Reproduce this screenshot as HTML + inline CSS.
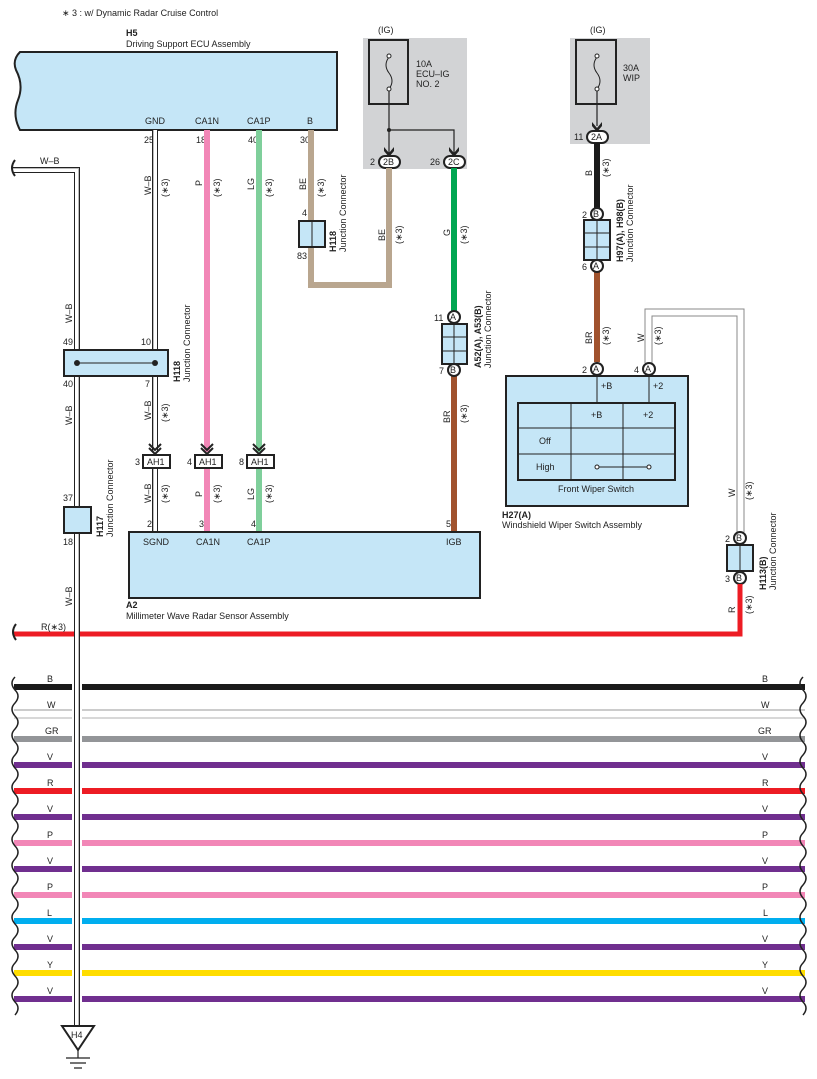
<!DOCTYPE html>
<html><head><meta charset="utf-8"><style>
html,body{margin:0;padding:0;background:#fff}
svg{display:block;font-family:"Liberation Sans",sans-serif}
text{font-size:9px;fill:#222}
.b{font-weight:bold}
</style></head><body>
<svg width="817" height="1079" viewBox="0 0 817 1079" xmlns="http://www.w3.org/2000/svg">
<text x="62" y="16" font-size="8.5">∗ 3 : w/ Dynamic Radar Cruise Control</text>
<!-- ECU H5 -->
<text x="126" y="36" class="b">H5</text>
<text x="126" y="47">Driving Support ECU Assembly</text>
<path d="M20,52 H337 V130 H20 Q12,115 18,100 Q24,85 16,70 Q12,60 20,52Z" fill="#c5e6f7" stroke="#222" stroke-width="2"/>
<text x="145" y="124">GND</text><text x="195" y="124">CA1N</text><text x="247" y="124">CA1P</text><text x="307" y="124">B</text>
<text x="144" y="143">25</text><text x="196" y="143">18</text><text x="248" y="143">40</text><text x="300" y="143">30</text>

<!-- IG box 1 -->
<rect x="363" y="38" width="104" height="131" fill="#d2d3d5"/>
<text x="378" y="33">(IG)</text>
<rect x="369" y="40" width="39" height="64" fill="none" stroke="#222" stroke-width="2"/>
<path d="M389,57 q-6,8 0,16 q6,8 0,16" fill="none" stroke="#222"/>
<circle cx="389" cy="56" r="2" fill="#fff" stroke="#222"/><circle cx="389" cy="89" r="2" fill="#fff" stroke="#222"/>
<text x="416" y="67">10A</text><text x="416" y="77">ECU–IG</text><text x="416" y="87">NO. 2</text>
<path d="M389,91 V155 M389,130 H454 V155" stroke="#222" stroke-width="1.2" fill="none"/>
<circle cx="389" cy="130" r="2" fill="#222"/>
<path d="M384,147 l5,6 l5,-6 v4 l-5,6 l-5,-6z M449,147 l5,6 l5,-6 v4 l-5,6 l-5,-6z" fill="#222"/>
<rect x="379" y="156" width="21" height="12" rx="6" fill="#fff" stroke="#222" stroke-width="2"/>
<text x="383" y="165">2B</text><text x="370" y="165">2</text>
<rect x="444" y="156" width="21" height="12" rx="6" fill="#fff" stroke="#222" stroke-width="2"/>
<text x="448" y="165">2C</text><text x="430" y="165">26</text>

<!-- IG box 2 -->
<rect x="570" y="38" width="80" height="106" fill="#d2d3d5"/>
<text x="590" y="33">(IG)</text>
<rect x="576" y="40" width="40" height="64" fill="none" stroke="#222" stroke-width="2"/>
<path d="M597,57 q-6,8 0,16 q6,8 0,16" fill="none" stroke="#222"/>
<circle cx="597" cy="56" r="2" fill="#fff" stroke="#222"/><circle cx="597" cy="89" r="2" fill="#fff" stroke="#222"/>
<text x="623" y="71">30A</text><text x="623" y="81">WIP</text>
<path d="M597,91 V126" stroke="#222" stroke-width="1.2"/>
<path d="M592,122 l5,6 l5,-6 v4 l-5,6 l-5,-6z" fill="#222"/>
<rect x="587" y="131" width="21" height="12" rx="6" fill="#fff" stroke="#222" stroke-width="2"/>
<text x="591" y="140">2A</text><text x="574" y="140">11</text>

<!-- wires from ECU -->
<path d="M155,130 V452" stroke="#222" stroke-width="6"/><path d="M155,130 V452" stroke="#fff" stroke-width="4"/><path d="M153.5,130 V452" stroke="#bbb" stroke-width="1"/>
<path d="M207,130 V452" stroke="#f287b7" stroke-width="6"/>
<path d="M259,130 V452" stroke="#7fcf9b" stroke-width="6"/>
<path d="M311,130 V285 H389 V168" stroke="#b9a68f" stroke-width="6" fill="none"/>
<path d="M454,168 V312" stroke="#00a651" stroke-width="6"/>
<path d="M454,376 V532" stroke="#a0522d" stroke-width="6"/>
<path d="M597,143 V208" stroke="#1a1a1a" stroke-width="6"/>
<path d="M597,272 V362" stroke="#a0522d" stroke-width="6"/>
<!-- rotated labels -->
<g font-size="9">
<text transform="translate(151,195) rotate(-90)">W–B</text><text transform="translate(168,197) rotate(-90)">(∗3)</text>
<text transform="translate(202,186) rotate(-90)">P</text><text transform="translate(220,197) rotate(-90)">(∗3)</text>
<text transform="translate(254,190) rotate(-90)">LG</text><text transform="translate(272,197) rotate(-90)">(∗3)</text>
<text transform="translate(306,190) rotate(-90)">BE</text><text transform="translate(324,197) rotate(-90)">(∗3)</text>
<text transform="translate(385,241) rotate(-90)">BE</text><text transform="translate(402,244) rotate(-90)">(∗3)</text>
<text transform="translate(450,236) rotate(-90)">G</text><text transform="translate(467,244) rotate(-90)">(∗3)</text>
<text transform="translate(450,423) rotate(-90)">BR</text><text transform="translate(467,423) rotate(-90)">(∗3)</text>
<text transform="translate(592,176) rotate(-90)">B</text><text transform="translate(609,177) rotate(-90)">(∗3)</text>
<text transform="translate(592,344) rotate(-90)">BR</text><text transform="translate(609,345) rotate(-90)">(∗3)</text>
<text transform="translate(644,342) rotate(-90)">W</text><text transform="translate(661,345) rotate(-90)">(∗3)</text>
<text transform="translate(735,497) rotate(-90)">W</text><text transform="translate(752,500) rotate(-90)">(∗3)</text>
<text transform="translate(735,613) rotate(-90)">R</text><text transform="translate(752,614) rotate(-90)">(∗3)</text>
<text transform="translate(151,420) rotate(-90)">W–B</text><text transform="translate(168,422) rotate(-90)">(∗3)</text>
<text transform="translate(151,503) rotate(-90)">W–B</text><text transform="translate(168,503) rotate(-90)">(∗3)</text>
<text transform="translate(202,497) rotate(-90)">P</text><text transform="translate(220,503) rotate(-90)">(∗3)</text>
<text transform="translate(254,500) rotate(-90)">LG</text><text transform="translate(272,503) rotate(-90)">(∗3)</text>
<text transform="translate(72,323) rotate(-90)">W–B</text>
<text transform="translate(72,425) rotate(-90)">W–B</text>
<text transform="translate(72,606) rotate(-90)">W–B</text>
</g>
<!-- H118 small -->
<rect x="299" y="221" width="26" height="26" fill="#c5e6f7" stroke="#222" stroke-width="2"/><path d="M312,221 V247" stroke="#222"/>
<text x="302" y="216">4</text><text x="297" y="259">83</text>
<text transform="translate(336,252) rotate(-90)" class="b">H118</text><text transform="translate(346,252) rotate(-90)">Junction Connector</text>
<!-- A52 -->
<circle cx="454" cy="317" r="6" fill="#fff" stroke="#222" stroke-width="2"/><text x="450" y="320" font-size="8">A</text><text x="434" y="321">11</text>
<rect x="442" y="324" width="25" height="40" fill="#c5e6f7" stroke="#222" stroke-width="2"/>
<path d="M454,324 V364 M442,337 H467 M442,351 H467" stroke="#222"/>
<circle cx="454" cy="370" r="6" fill="#fff" stroke="#222" stroke-width="2"/><text x="450" y="373" font-size="8">B</text><text x="439" y="374">7</text>
<text transform="translate(481,368) rotate(-90)" class="b">A52(A), A53(B)</text><text transform="translate(491,368) rotate(-90)">Junction Connector</text>
<!-- H97 -->
<circle cx="597" cy="214" r="6" fill="#fff" stroke="#222" stroke-width="2"/><text x="593" y="217" font-size="8">B</text><text x="582" y="218">2</text>
<rect x="584" y="220" width="26" height="40" fill="#c5e6f7" stroke="#222" stroke-width="2"/>
<path d="M597,220 V260 M584,233 H610 M584,247 H610" stroke="#222"/>
<circle cx="597" cy="266" r="6" fill="#fff" stroke="#222" stroke-width="2"/><text x="593" y="269" font-size="8">A</text><text x="582" y="270">6</text>
<text transform="translate(623,262) rotate(-90)" class="b">H97(A), H98(B)</text><text transform="translate(633,262) rotate(-90)">Junction Connector</text>
<!-- W wire to H113 -->
<path d="M645,363 V309 H744 V532 M652,363 V316 H737 V532" stroke="#888" stroke-width="1" fill="none"/>
<!-- H27 -->
<rect x="506" y="376" width="182" height="130" fill="#c5e6f7" stroke="#222" stroke-width="2"/>
<path d="M597,376 V403 M649,376 V403" stroke="#222"/>
<text x="601" y="389">+B</text><text x="653" y="389">+2</text>
<rect x="518" y="403" width="157" height="77" fill="#c5e6f7" stroke="#222" stroke-width="2"/>
<path d="M571,403 V480 M623,403 V480 M518,428 H675 M518,454 H675" stroke="#222"/>
<text x="591" y="418">+B</text><text x="643" y="418">+2</text>
<text x="539" y="444">Off</text><text x="536" y="470">High</text>
<path d="M597,467 H649" stroke="#222"/><circle cx="597" cy="467" r="2" fill="#fff" stroke="#222"/><circle cx="649" cy="467" r="2" fill="#fff" stroke="#222"/>
<text x="558" y="492">Front Wiper Switch</text>
<text x="502" y="518" class="b">H27(A)</text><text x="502" y="528">Windshield Wiper Switch Assembly</text>
<circle cx="597" cy="369" r="6" fill="#fff" stroke="#222" stroke-width="2"/><text x="593" y="372" font-size="8">A</text><text x="582" y="373">2</text>
<circle cx="649" cy="369" r="6" fill="#fff" stroke="#222" stroke-width="2"/><text x="645" y="372" font-size="8">A</text><text x="634" y="373">4</text>
<!-- H113 -->
<circle cx="740" cy="538" r="6" fill="#fff" stroke="#222" stroke-width="2"/><text x="736" y="541" font-size="8">B</text><text x="725" y="542">2</text>
<rect x="727" y="545" width="26" height="26" fill="#c5e6f7" stroke="#222" stroke-width="2"/><path d="M740,545 V571" stroke="#222"/>
<circle cx="740" cy="578" r="6" fill="#fff" stroke="#222" stroke-width="2"/><text x="736" y="581" font-size="8">B</text><text x="725" y="582">3</text>
<text transform="translate(766,590) rotate(-90)" class="b">H113(B)</text><text transform="translate(776,590) rotate(-90)">Junction Connector</text>
<!-- R wire -->
<path d="M740,584 V634 H14" stroke="#ed1c24" stroke-width="5" fill="none"/>
<text x="41" y="630">R(∗3)</text>
<path d="M16,624 q-6,8 0,16" stroke="#222" stroke-width="2" fill="none"/>
<!-- left W-B -->
<path d="M12,170 H77 V1028" stroke="#222" stroke-width="6" fill="none"/><path d="M12,170 H77 V1028" stroke="#fff" stroke-width="4" fill="none"/><path d="M12,168.5 H78.5 V1028" stroke="#bbb" stroke-width="1" fill="none"/>
<text x="40" y="164">W–B</text>
<path d="M15,160 q-6,8 0,16" stroke="#222" stroke-width="2" fill="none"/>
<!-- H118 big -->
<rect x="64" y="350" width="104" height="26" fill="#c5e6f7" stroke="#222" stroke-width="2"/>
<path d="M77,363 H155" stroke="#222"/><circle cx="77" cy="363" r="3" fill="#222"/><circle cx="155" cy="363" r="3" fill="#222"/>
<text x="63" y="345">49</text><text x="141" y="345">10</text><text x="63" y="387">40</text><text x="145" y="387">7</text>
<text transform="translate(180,382) rotate(-90)" class="b">H118</text><text transform="translate(190,382) rotate(-90)">Junction Connector</text>
<!-- H117 -->
<rect x="64" y="507" width="27" height="26" fill="#c5e6f7" stroke="#222" stroke-width="2"/>
<text x="63" y="501">37</text><text x="63" y="545">18</text>
<text transform="translate(103,537) rotate(-90)" class="b">H117</text><text transform="translate(113,537) rotate(-90)">Junction Connector</text>
<!-- AH1 -->
<path d="M149,444 l6,6 l6,-6 M149,448 l6,6 l6,-6 M201,444 l6,6 l6,-6 M201,448 l6,6 l6,-6 M253,444 l6,6 l6,-6 M253,448 l6,6 l6,-6" stroke="#222" stroke-width="2" fill="none"/>
<path d="M155,468 V532" stroke="#222" stroke-width="6"/><path d="M155,468 V532" stroke="#fff" stroke-width="4"/><path d="M153.5,468 V532" stroke="#bbb" stroke-width="1"/>
<path d="M207,468 V532" stroke="#f287b7" stroke-width="6"/>
<path d="M259,468 V532" stroke="#7fcf9b" stroke-width="6"/>
<g fill="#fff" stroke="#222" stroke-width="2"><rect x="143" y="455" width="27" height="13"/><rect x="195" y="455" width="27" height="13"/><rect x="247" y="455" width="27" height="13"/></g>
<text x="147" y="465">AH1</text><text x="199" y="465">AH1</text><text x="251" y="465">AH1</text>
<text x="135" y="465">3</text><text x="187" y="465">4</text><text x="239" y="465">8</text>
<!-- A2 -->
<rect x="129" y="532" width="351" height="66" fill="#c5e6f7" stroke="#222" stroke-width="2"/>
<text x="143" y="545">SGND</text><text x="196" y="545">CA1N</text><text x="247" y="545">CA1P</text><text x="446" y="545">IGB</text>
<text x="147" y="527">2</text><text x="199" y="527">3</text><text x="251" y="527">4</text><text x="446" y="527">5</text>
<text x="126" y="608" class="b">A2</text><text x="126" y="619">Millimeter Wave Radar Sensor Assembly</text>
<!-- bus -->
<g stroke-width="6">
<path d="M14,687 H805" stroke="#1a1a1a"/>
<path d="M14,739 H805" stroke="#939598"/>
<path d="M14,765 H805" stroke="#702f8f"/>
<path d="M14,791 H805" stroke="#ed1c24"/>
<path d="M14,817 H805" stroke="#702f8f"/>
<path d="M14,843 H805" stroke="#f287b7"/>
<path d="M14,869 H805" stroke="#702f8f"/>
<path d="M14,895 H805" stroke="#f287b7"/>
<path d="M14,921 H805" stroke="#00aeef"/>
<path d="M14,947 H805" stroke="#702f8f"/>
<path d="M14,973 H805" stroke="#ffdd00"/>
<path d="M14,999 H805" stroke="#702f8f"/>
</g>
<path d="M14,710 H805" stroke="#999" stroke-width="1"/><path d="M14,718 H805" stroke="#ccc" stroke-width="1.5"/>
<g font-size="9">
<text x="47" y="682">B</text><text x="47" y="708">W</text><text x="45" y="734">GR</text><text x="47" y="760">V</text><text x="47" y="786">R</text><text x="47" y="812">V</text><text x="47" y="838">P</text><text x="47" y="864">V</text><text x="47" y="890">P</text><text x="47" y="916">L</text><text x="47" y="942">V</text><text x="47" y="968">Y</text><text x="47" y="994">V</text>
<text x="762" y="682">B</text><text x="761" y="708">W</text><text x="758" y="734">GR</text><text x="762" y="760">V</text><text x="762" y="786">R</text><text x="762" y="812">V</text><text x="762" y="838">P</text><text x="762" y="864">V</text><text x="762" y="890">P</text><text x="763" y="916">L</text><text x="762" y="942">V</text><text x="762" y="968">Y</text><text x="762" y="994">V</text>
</g>
<path d="M15,677 q-6,6 0,13 q6,6 0,13 q-6,6 0,13 q6,6 0,13 q-6,6 0,13 q6,6 0,13 q-6,6 0,13 q6,6 0,13 q-6,6 0,13 q6,6 0,13 q-6,6 0,13 q6,6 0,13 q-6,6 0,13 q6,6 0,13 q-6,6 0,13 q6,6 0,13 q-6,6 0,13 q6,6 0,13 q-6,6 0,13 q6,6 0,13 q-6,6 0,13 q6,6 0,13 q-6,6 0,13 q6,6 0,13 q-6,6 0,13 q6,6 0,13" stroke="#222" stroke-width="1.5" fill="none"/>
<path d="M803,677 q-6,6 0,13 q6,6 0,13 q-6,6 0,13 q6,6 0,13 q-6,6 0,13 q6,6 0,13 q-6,6 0,13 q6,6 0,13 q-6,6 0,13 q6,6 0,13 q-6,6 0,13 q6,6 0,13 q-6,6 0,13 q6,6 0,13 q-6,6 0,13 q6,6 0,13 q-6,6 0,13 q6,6 0,13 q-6,6 0,13 q6,6 0,13 q-6,6 0,13 q6,6 0,13 q-6,6 0,13 q6,6 0,13 q-6,6 0,13 q6,6 0,13" stroke="#222" stroke-width="1.5" fill="none"/>
<!-- W-B over bus -->
<path d="M77,660 V1028" stroke="#fff" stroke-width="10"/>
<path d="M77,660 V1028" stroke="#222" stroke-width="6"/><path d="M77,660 V1028" stroke="#fff" stroke-width="4"/><path d="M78.5,660 V1028" stroke="#bbb" stroke-width="1"/>
<!-- ground -->
<path d="M62,1026 H94 L78,1050 Z" fill="#fff" stroke="#222" stroke-width="2"/>
<text x="71" y="1038" font-size="8">H4</text>
<path d="M78,1050 V1058 M66,1058 H90 M70,1063 H86 M74,1068 H82" stroke="#222" stroke-width="1.2"/>
</svg>
</body></html>
